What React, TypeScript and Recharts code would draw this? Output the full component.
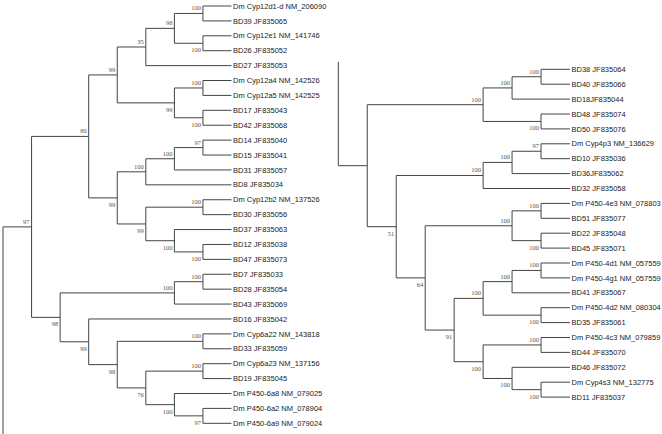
import React from "react";
import { ComposedChart, XAxis, YAxis, ReferenceLine, Scatter } from "recharts";

// leaf labels, top to bottom
const leftLeaves = [
  "Dm Cyp12d1-d NM_206090",
  "BD39 JF835065",
  "Dm Cyp12e1 NM_141746",
  "BD26 JF835052",
  "BD27 JF835053",
  "Dm Cyp12a4 NM_142526",
  "Dm Cyp12a5 NM_142525",
  "BD17 JF835043",
  "BD42 JF835068",
  "BD14 JF835040",
  "BD15 JF835041",
  "BD31 JF835057",
  "BD8 JF835034",
  "Dm Cyp12b2 NM_137526",
  "BD30 JF835056",
  "BD37 JF835063",
  "BD12 JF835038",
  "BD47 JF835073",
  "BD7 JF835033",
  "BD28 JF835054",
  "BD43 JF835069",
  "BD16 JF835042",
  "Dm Cyp6a22 NM_143818",
  "BD33 JF835059",
  "Dm Cyp6a23 NM_137156",
  "BD19 JF835045",
  "Dm P450-6a8 NM_079025",
  "Dm P450-6a2 NM_078904",
  "Dm P450-6a9 NM_079024",
];

const rightLeaves = [
  "BD38 JF835064",
  "BD40 JF835066",
  "BD18JF835044",
  "BD48 JF835074",
  "BD50 JF835076",
  "Dm Cyp4p3 NM_136629",
  "BD10 JF835036",
  "BD36JF835062",
  "BD32 JF835058",
  "Dm P450-4e3 NM_078803",
  "BD51 JF835077",
  "BD22 JF835048",
  "BD45 JF835071",
  "Dm P450-4d1 NM_057559",
  "Dm P450-4g1 NM_057559",
  "BD41 JF835067",
  "Dm P450-4d2 NM_080304",
  "BD35 JF835061",
  "Dm P450-4c3 NM_079859",
  "BD44 JF835070",
  "BD46 JF835072",
  "Dm Cyp4s3 NM_132775",
  "BD11 JF835037",
];

// topology (newick, leaf = row index, number after ")" = bootstrap)
const leftTree =
  "((((((0,1)100,(2,3)100)98,4)35,((5,6)100,(7,8)100)99)99,((((9,10)97,11)100,12)100,((13,14)100,(15,(16,17)100)100)99)99)80,(((18,19)100,20)100,(21,((22,23)100,((24,25)100,(26,(27,28)97)100)76)98)99)98)97";
const rightTree =
  "((((0,1)100,2)100,(3,4)100)100,((((5,6)97,7)100,8)100,(((9,10)100,(11,12)100)100,((((13,14)100,15)100,(16,17)100)100,((18,19)100,(20,(21,22)100)100)100)91)64)51)";

const LEVELS = 8;

type Node = { kids: Node[]; support?: string; h: number; y: number };

function parse(s: string): Node {
  let i = 0;
  const read = (): Node => {
    if (s[i] === "(") {
      i++;
      const kids = [read()];
      while (s[i] === ",") {
        i++;
        kids.push(read());
      }
      i++;
      let sup = "";
      while (i < s.length && /\d/.test(s[i])) sup += s[i++];
      return {
        kids,
        support: sup || undefined,
        h: Math.max(...kids.map((k) => k.h)) + 1,
        y: (kids[0].y + kids[kids.length - 1].y) / 2,
      };
    }
    let num = "";
    while (/\d/.test(s[i])) num += s[i++];
    return { kids: [], h: 0, y: Number(num) };
  };
  return read();
}

type Seg = [{ x: number; y: number }, { x: number; y: number }];

function layout(src: string, rootStem: "up" | "down", rows: number) {
  const root = parse(src);
  const segs: Seg[] = [];
  const labels: { x: number; y: number; v: string; below: boolean }[] = [];
  const walk = (n: Node, px: number, below: boolean) => {
    const x = LEVELS - n.h;
    segs.push([{ x: px, y: n.y }, { x, y: n.y }]);
    if (n.support) labels.push({ x, y: n.y, v: n.support, below });
    if (n.kids.length) {
      segs.push([{ x, y: n.kids[0].y }, { x, y: n.kids[n.kids.length - 1].y }]);
      n.kids.forEach((k, j) => walk(k, x, j > 0));
    }
  };
  walk(root, 0, false);
  // the tree continues between the two panels
  segs.push(
    rootStem === "down"
      ? [{ x: 0, y: root.y }, { x: 0, y: rows }]
      : [{ x: 0, y: -0.5 }, { x: 0, y: root.y }]
  );
  return { segs, labels };
}

const leafFont = "'Liberation Sans', Arial, sans-serif";
const supFont = "'Liberation Serif', 'Times New Roman', serif";

const SupportLabel = (props: any) => {
  const { cx, cy, payload } = props;
  return (
    <text
      x={cx - 2}
      y={payload.below ? cy + 9 : cy - 3}
      textAnchor="end"
      fontSize={6.5}
      fontFamily={supFont}
      fill="#555"
    >
      {payload.v}
    </text>
  );
};

const LeafTick = (leaves: string[]) => (props: any) => {
  const { x, y, payload } = props;
  return (
    <text
      x={x}
      y={y}
      dy="0.35em"
      textAnchor="start"
      fontSize={7.5}
      fontFamily={leafFont}
      fill="#222"
    >
      {leaves[payload.value]}
    </text>
  );
};

function TreePanel({
  leaves,
  tree,
  stem,
  left,
  margin,
  axisWidth,
}: {
  leaves: string[];
  tree: string;
  stem: "up" | "down";
  left: number;
  margin: { top: number; right: number; bottom: number; left: number };
  axisWidth: number;
}) {
  const { segs, labels } = layout(tree, stem, leaves.length);
  return (
    <div style={{ position: "absolute", left, top: 0 }}>
      <ComposedChart width={332} height={434} margin={margin}>
        <XAxis type="number" dataKey="x" domain={[0, LEVELS]} hide />
        <YAxis
          type="number"
          dataKey="y"
          domain={[0, leaves.length - 1]}
          reversed
          orientation="right"
          width={axisWidth}
          ticks={leaves.map((_, i) => i)}
          interval={0}
          axisLine={false}
          tickLine={false}
          tickSize={0}
          tickMargin={1.5}
          tick={LeafTick(leaves)}
        />
        {segs.map((s, i) => (
          <ReferenceLine
            key={i}
            segment={s}
            stroke="#444"
            strokeWidth={1}
            ifOverflow="visible"
          />
        ))}
        <Scatter data={labels} shape={SupportLabel} isAnimationActive={false} />
      </ComposedChart>
    </div>
  );
}

export default function App() {
  return (
    <div
      style={{
        position: "absolute",
        left: 0,
        top: 0,
        width: 662,
        height: 434,
        background: "#fff",
        overflow: "hidden",
      }}
    >
      <TreePanel
        leaves={leftLeaves}
        tree={leftTree}
        stem="down"
        left={0}
        margin={{ top: 6, right: 0, bottom: 10.7, left: 3 }}
        axisWidth={100.5}
      />
      <TreePanel
        leaves={rightLeaves}
        tree={rightTree}
        stem="up"
        left={330}
        margin={{ top: 69.3, right: 0, bottom: 36.9, left: 8.3 }}
        axisWidth={92}
      />
    </div>
  );
}
